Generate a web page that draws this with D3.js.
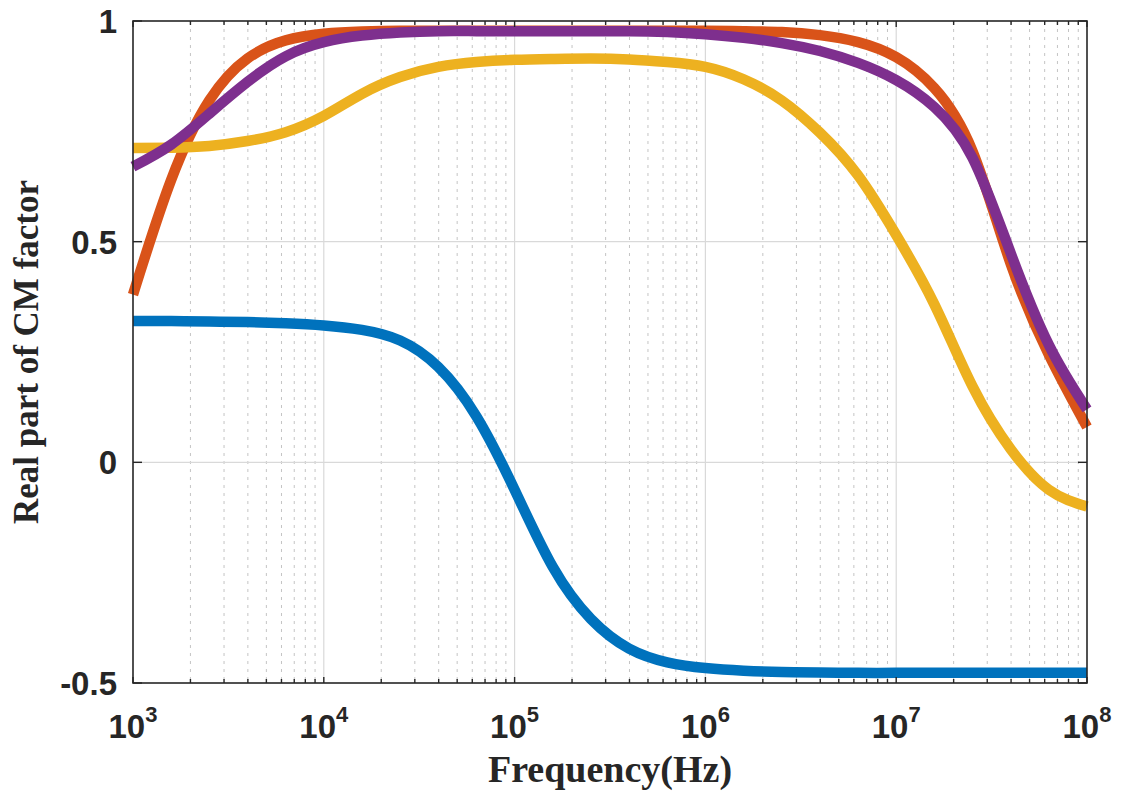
<!DOCTYPE html>
<html>
<head>
<meta charset="utf-8">
<script src="https://cdn.jsdelivr.net/npm/d3@7"></script>
<style>
  html, body { margin: 0; padding: 0; background: #ffffff; }
  svg { display: block; }
</style>
</head>
<body>
<svg id="chart" width="1123" height="791"></svg>
<script>
// Sampled frequencies (Hz), five points per decade
const freqHz = [
  1.000e3, 1.585e3, 2.512e3, 3.981e3, 6.310e3,
  1.000e4, 1.585e4, 2.512e4, 3.981e4, 6.310e4,
  1.000e5, 1.585e5, 2.512e5, 3.981e5, 6.310e5,
  1.000e6, 1.585e6, 2.512e6, 3.981e6, 6.310e6,
  1.000e7, 1.585e7, 2.512e7, 3.981e7, 6.310e7,
  1.000e8
];

// Real part of the Clausius–Mossotti factor for each case
const cmBlue = [
  0.320, 0.320, 0.319, 0.318, 0.315,
  0.310, 0.300, 0.276, 0.216, 0.104,
  -0.062, -0.237, -0.355, -0.422, -0.453,
  -0.466, -0.472, -0.475, -0.476, -0.477,
  -0.477, -0.477, -0.477, -0.477, -0.477,
  -0.477
];
const cmOrange = [
  0.380, 0.640, 0.820, 0.915, 0.956,
  0.971, 0.976, 0.978, 0.978, 0.978,
  0.978, 0.978, 0.978, 0.978, 0.978,
  0.978, 0.977, 0.975, 0.968, 0.952,
  0.918, 0.848, 0.705, 0.450, 0.244,
  0.080
];
const cmYellow = [
  0.712, 0.713, 0.717, 0.728, 0.748,
  0.785, 0.835, 0.873, 0.896, 0.907,
  0.912, 0.914, 0.915, 0.913, 0.907,
  0.896, 0.868, 0.820, 0.747, 0.650,
  0.515, 0.358, 0.172, 0.030, -0.062,
  -0.100
];
const cmPurple = [
  0.670, 0.720, 0.790, 0.862, 0.920,
  0.952, 0.967, 0.974, 0.977, 0.977,
  0.977, 0.977, 0.977, 0.977, 0.975,
  0.970, 0.962, 0.950, 0.932, 0.905,
  0.866, 0.805, 0.690, 0.474, 0.266,
  0.120
];

const seriesList = [
  { name: "blue", values: cmBlue, color: "#0072BD" },
  { name: "orange", values: cmOrange, color: "#D95319" },
  { name: "yellow", values: cmYellow, color: "#EDB120" },
  { name: "purple", values: cmPurple, color: "#7E2F8E" }
];

const yTickValues = [-0.5, 0, 0.5, 1];
const yTickLabels = ["-0.5", "0", "0.5", "1"];
const xMajorExponents = [3, 4, 5, 6, 7, 8];

const xTitle = "Frequency(Hz)";
const yTitle = "Real part of CM factor";

// Layout
const plot = { left: 133, right: 1087, top: 21, bottom: 683 };

const svg = d3.select("#chart");

const x = d3.scaleLog().domain([1e3, 1e8]).range([plot.left, plot.right]);
const y = d3.scaleLinear().domain([-0.5, 1]).range([plot.bottom, plot.top]);

// Minor tick positions 2..9 within each decade
const minorTicks = [];
for (let e = 3; e < 8; e++) {
  for (let m = 2; m <= 9; m++) minorTicks.push(m * Math.pow(10, e));
}
const majorTicks = xMajorExponents.map(e => Math.pow(10, e));

const grid = svg.append("g");

// Minor x grid (dotted)
grid.selectAll("line.minor")
  .data(minorTicks)
  .join("line")
  .attr("x1", d => x(d)).attr("x2", d => x(d))
  .attr("y1", plot.top).attr("y2", plot.bottom)
  .attr("stroke", "#c4c4c4")
  .attr("stroke-width", 1)
  .attr("stroke-dasharray", "3,5");

// Major x grid
grid.selectAll("line.majorx")
  .data(majorTicks.slice(1, -1))
  .join("line")
  .attr("x1", d => x(d)).attr("x2", d => x(d))
  .attr("y1", plot.top).attr("y2", plot.bottom)
  .attr("stroke", "#d9d9d9")
  .attr("stroke-width", 1.2);

// Major y grid
grid.selectAll("line.majory")
  .data(yTickValues.slice(1, -1))
  .join("line")
  .attr("x1", plot.left).attr("x2", plot.right)
  .attr("y1", d => y(d)).attr("y2", d => y(d))
  .attr("stroke", "#d9d9d9")
  .attr("stroke-width", 1.2);

// Curves (smooth cubic spline through the samples on the log axis)
const line = d3.line()
  .x((d, i) => x(freqHz[i]))
  .y(d => y(d))
  .curve(d3.curveNatural);

svg.append("g")
  .selectAll("path")
  .data(seriesList)
  .join("path")
  .attr("d", s => line(s.values))
  .attr("fill", "none")
  .attr("stroke", s => s.color)
  .attr("stroke-width", 10.5)
  .attr("stroke-linejoin", "round")
  .attr("stroke-linecap", "butt");

// Axes box and ticks
const axisColor = "#262626";
const box = svg.append("g");
box.append("rect")
  .attr("x", plot.left).attr("y", plot.top)
  .attr("width", plot.right - plot.left)
  .attr("height", plot.bottom - plot.top)
  .attr("fill", "none")
  .attr("stroke", axisColor)
  .attr("stroke-width", 1.6);

// x ticks (bottom and top, inward)
function xTickMarks(values, len) {
  [plot.bottom, plot.top].forEach((yy, k) => {
    const dir = k === 0 ? -1 : 1;
    box.append("g").selectAll("line")
      .data(values)
      .join("line")
      .attr("x1", d => x(d)).attr("x2", d => x(d))
      .attr("y1", yy).attr("y2", yy + dir * len)
      .attr("stroke", axisColor)
      .attr("stroke-width", 1.4);
  });
}
xTickMarks(minorTicks, 4);
xTickMarks(majorTicks, 6);

// y ticks (left and right, inward)
[plot.left, plot.right].forEach((xx, k) => {
  const dir = k === 0 ? 1 : -1;
  box.append("g").selectAll("line")
    .data(yTickValues)
    .join("line")
    .attr("x1", xx).attr("x2", xx + dir * 9)
    .attr("y1", d => y(d)).attr("y2", d => y(d))
    .attr("stroke", axisColor)
    .attr("stroke-width", 1.4);
});

// Tick labels
const tickFont = "'Liberation Sans', Arial, Helvetica, sans-serif";

svg.append("g").selectAll("text")
  .data(yTickValues)
  .join("text")
  .attr("x", plot.left - 16)
  .attr("y", d => y(d) + 12)
  .attr("text-anchor", "end")
  .attr("font-family", tickFont)
  .attr("font-weight", "bold")
  .attr("font-size", 33)
  .attr("fill", axisColor)
  .text((d, i) => yTickLabels[i]);

const xl = svg.append("g").selectAll("text")
  .data(xMajorExponents)
  .join("text")
  .attr("x", e => x(Math.pow(10, e)))
  .attr("y", 738)
  .attr("text-anchor", "middle")
  .attr("font-family", tickFont)
  .attr("font-weight", "bold")
  .attr("font-size", 33)
  .attr("fill", axisColor);
xl.append("tspan").text("10");
xl.append("tspan")
  .attr("dy", -16)
  .attr("font-size", 22)
  .text(e => String(e));

// Axis titles
const titleFont = "'Liberation Serif', 'Times New Roman', Times, serif";

svg.append("text")
  .attr("x", (plot.left + plot.right) / 2)
  .attr("y", 782)
  .attr("text-anchor", "middle")
  .attr("font-family", titleFont)
  .attr("font-weight", "bold")
  .attr("font-size", 38)
  .attr("fill", axisColor)
  .text(xTitle);

svg.append("text")
  .attr("transform", `translate(38, ${(plot.top + plot.bottom) / 2}) rotate(-90)`)
  .attr("text-anchor", "middle")
  .attr("font-family", titleFont)
  .attr("font-weight", "bold")
  .attr("font-size", 35)
  .attr("fill", axisColor)
  .text(yTitle);
</script>
</body>
</html>
